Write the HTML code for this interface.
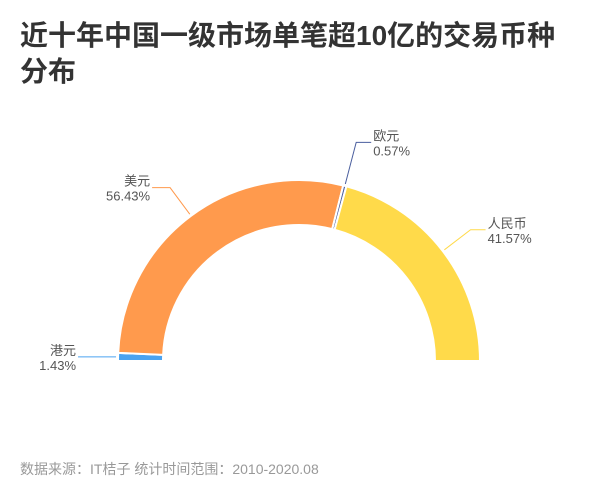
<!DOCTYPE html>
<html><head><meta charset="utf-8"><style>
body{margin:0;width:600px;height:503px;background:#fff;font-family:"Liberation Sans","Noto Sans CJK SC",sans-serif;overflow:hidden}
#title{position:absolute;left:20px;top:18px;font-size:28px;font-weight:bold;color:#333;line-height:36px;width:545px}
#foot{position:absolute;left:20px;top:459px;font-size:14px;color:#999}
svg{position:absolute;left:0;top:0}
</style></head><body>
<div id="title">近十年中国一级市场单笔超10亿的交易币种分布</div>
<svg id="chart" width="600" height="503"></svg>
<div id="foot">数据来源：IT桔子 统计时间范围：2010-2020.08</div>
<script>
const categories=["港元","美元","欧元","人民币"];
const values=[1.43,56.43,0.57,41.57];
const colors=["#4ba3f0","#ff9a4d","#4a5e9e","#ffda4a"];
const svg=document.getElementById('chart');
const NS="http://www.w3.org/2000/svg";
const cx=299,cy=361,R=181,r=136;
const total=values.reduce((a,b)=>a+b,0);
function pt(a,rad){return [cx+rad*Math.cos(a),cy-rad*Math.sin(a)];}
let acc=0;
values.forEach((v,i)=>{
  const a0=Math.PI*(1-acc/total), a1=Math.PI*(1-(acc+v)/total);
  acc+=v;
  const p1=pt(a0,R),p2=pt(a1,R),p3=pt(a1,r),p4=pt(a0,r);
  const path=document.createElementNS(NS,'path');
  path.setAttribute('d',`M${p1}A${R},${R} 0 0 1 ${p2}L${p3}A${r},${r} 0 0 0 ${p4}Z`);
  path.setAttribute('fill',colors[i]);path.setAttribute('stroke','#fff');path.setAttribute('stroke-width','2');
  
  
  svg.appendChild(path);
  const am=(a0+a1)/2;
  const s=pt(am,R+2);
  const e=pt(am,R+(i==2?45:35));
  const right=Math.cos(am)>=0;
  let ex=e[0],ey=e[1];
  if(i==0){ex=s[0]-20;ey=s[1];}
  const hx=ex+(right?15:-18);
  const line=document.createElementNS(NS,'polyline');
  line.setAttribute('points',`${s} ${ex},${ey} ${hx},${ey}`);
  line.setAttribute('fill','none');line.setAttribute('stroke',colors[i]);line.setAttribute('stroke-width','1');
  
  
  svg.appendChild(line);
  const t=document.createElementNS(NS,'text');
  t.setAttribute('x',right?hx+2:hx-2);t.setAttribute('y',ey-2);
  t.setAttribute('text-anchor',right?'start':'end');
  t.setAttribute('font-size','13');t.setAttribute('fill','#555');
  
  
  const s1=document.createElementNS(NS,'tspan');s1.textContent=categories[i];
  s1.setAttribute('x',right?hx+2:hx-2);
  const s2=document.createElementNS(NS,'tspan');s2.textContent=values[i].toFixed(2)+'%';
  s2.setAttribute('x',right?hx+2:hx-2);s2.setAttribute('dy','15');
  t.appendChild(s1);t.appendChild(s2);svg.appendChild(t);
});
</script>
</body></html>
